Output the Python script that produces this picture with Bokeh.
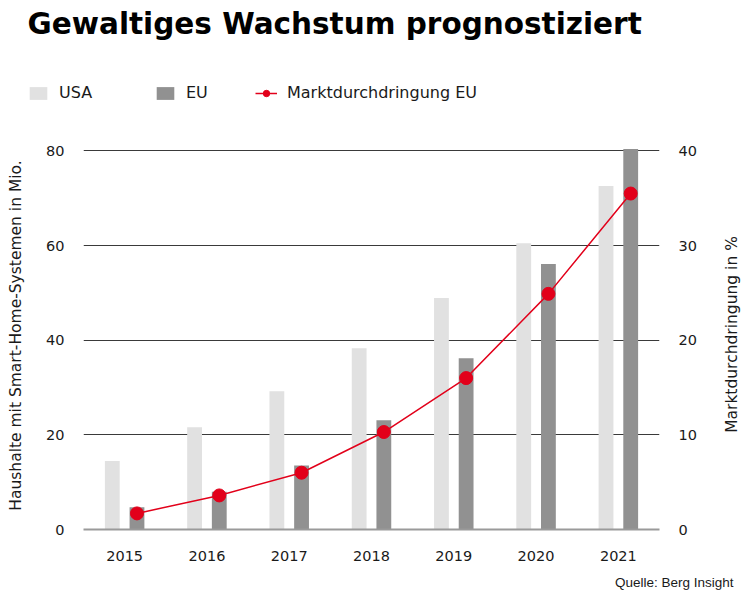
import math
from bokeh.plotting import figure
from bokeh.layouts import column, row
from bokeh.models import (FactorRange, Range1d, LinearAxis, FixedTicker, Legend,
                          LegendItem, Label, ColumnDataSource)
from bokeh.transform import dodge
from bokeh.embed import file_html
from bokeh.resources import INLINE

years = ["2015", "2016", "2017", "2018", "2019", "2020", "2021"]
usa = [14.5, 21.6, 29.2, 38.3, 48.9, 60.5, 72.6]
eu = [4.7, 8.0, 13.5, 23.1, 36.2, 56.1, 80.4]
penetration_eu = [1.7, 3.6, 6.0, 10.3, 16.0, 24.9, 35.5]
left_ticks = [0, 20, 40, 60, 80]
right_ticks = [0, 10, 20, 30, 40]

FONT = "DejaVu Sans"
TXT = "#1a1a1a"
RED = "#e2001a"
C_USA = "#e1e1e1"
C_EU = "#919191"

src = ColumnDataSource(dict(year=years, usa=usa, eu=eu, pen=penetration_eu))

# ---------------- header: title + legend ----------------
hdr = figure(width=745, height=120, x_range=Range1d(0, 1), y_range=Range1d(0, 1),
             x_axis_type=None, y_axis_type=None, output_backend="svg",
             toolbar_location=None, min_border=0, title=None)
hdr.frame_align = False
hdr.outline_line_color = None
hdr.add_layout(Label(x=27, y=97, x_units="screen", y_units="screen",
                     text="Gewaltiges Wachstum prognostiziert", text_font=FONT,
                     text_font_size="29.5px", text_font_style="bold", text_color="#000000",
                     text_baseline="alphabetic"))
# legend-only renderers (their single point lies outside the header's visible range)
h_usa = hdr.vbar(x=[5], top=[1], width=0.1, fill_color=C_USA, line_color=None)
h_eu = hdr.vbar(x=[5], top=[1], width=0.1, fill_color=C_EU, line_color=None)
h_line = hdr.line(x=[5, 6], y=[1, 1], line_color=RED, line_width=1.5)
h_dot = hdr.scatter(x=[5], y=[1], size=11, fill_color=RED, line_color=RED)


def add_legend(fig, items, x, y):
    lg = Legend(items=items, location=(x, y), orientation="horizontal",
                glyph_width=22, glyph_height=16, label_standoff=10, label_height=16,
                label_text_font=FONT, label_text_font_size="16px", label_text_color=TXT,
                border_line_color=None, background_fill_alpha=0, padding=0, margin=0,
                spacing=0)
    fig.add_layout(lg)


add_legend(hdr, [LegendItem(label="USA", renderers=[h_usa])], 27, 18)
add_legend(hdr, [LegendItem(label="EU", renderers=[h_eu])], 154, 18)
add_legend(hdr, [LegendItem(label="Marktdurchdringung EU", renderers=[h_line, h_dot])], 255, 18)

# ---------------- main chart ----------------
p = figure(width=720, height=450, x_range=FactorRange(*years), y_range=Range1d(0, 82),
           output_backend="svg", toolbar_location=None, title=None,
           min_border_left=83, min_border_right=61, min_border_top=21, min_border_bottom=41)
p.extra_y_ranges = {"pct": Range1d(0, 41)}
p.outline_line_color = None
p.xgrid.visible = False
p.ygrid.ticker = FixedTicker(ticks=[20, 40, 60, 80])
p.ygrid.grid_line_color = "#3a3a3a"
p.ygrid.grid_line_width = 1

ya = p.yaxis[0]
ya.ticker = FixedTicker(ticks=left_ticks)
ya.axis_line_color = None
ya.major_tick_line_color = None
ya.minor_tick_line_color = None
ya.major_label_standoff = 13
ya.major_label_text_font = FONT
ya.major_label_text_font_size = "14.5px"
ya.major_label_text_color = TXT
ya.axis_label = "Haushalte mit Smart-Home-Systemen in Mio."
ya.axis_label_text_font = FONT
ya.axis_label_text_font_size = "15.5px"
ya.axis_label_text_font_style = "normal"
ya.axis_label_text_color = TXT
ya.axis_label_standoff = 18

ra = LinearAxis(y_range_name="pct", ticker=FixedTicker(ticks=right_ticks))
ra.axis_line_color = None
ra.major_tick_line_color = None
ra.minor_tick_line_color = None
ra.major_label_standoff = 13
ra.major_label_text_font = FONT
ra.major_label_text_font_size = "14.5px"
ra.major_label_text_color = TXT
p.add_layout(ra, "right")

xa = p.xaxis[0]
xa.axis_line_color = "#9a9a9a"
xa.axis_line_width = 2
xa.major_tick_line_color = None
xa.minor_tick_line_color = None
xa.major_label_standoff = 15
xa.major_label_text_font = FONT
xa.major_label_text_font_size = "14.5px"
xa.major_label_text_color = TXT

p.vbar(x=dodge("year", -0.15, range=p.x_range), top="usa", width=0.18,
       source=src, fill_color=C_USA, line_color=None)
p.vbar(x=dodge("year", 0.15, range=p.x_range), top="eu", width=0.18,
       source=src, fill_color=C_EU, line_color=None)
p.line(x=dodge("year", 0.15, range=p.x_range), y="pen", y_range_name="pct",
       source=src, line_color=RED, line_width=1.5)
p.scatter(x=dodge("year", 0.15, range=p.x_range), y="pen", y_range_name="pct",
          source=src, size=13, fill_color=RED, line_color=RED)

# ---------------- right axis title (reads bottom-to-top) ----------------
side = figure(width=25, height=450, x_range=Range1d(0, 1), y_range=Range1d(0, 1),
              x_axis_type=None, y_axis_type=None, output_backend="svg",
              toolbar_location=None, min_border=0, title=None)
side.frame_align = False
side.outline_line_color = None
side.add_layout(Label(x=11, y=236, x_units="screen", y_units="screen",
                      text="Marktdurchdringung in %", angle=math.pi / 2,
                      text_font=FONT, text_font_size="15.5px", text_color=TXT,
                      text_align="center", text_baseline="middle"))

# ---------------- footer: source ----------------
ftr = figure(width=745, height=29, x_range=Range1d(0, 1), y_range=Range1d(0, 1),
             x_axis_type=None, y_axis_type=None, output_backend="svg",
             toolbar_location=None, min_border=0, title=None)
ftr.frame_align = False
ftr.outline_line_color = None
ftr.add_layout(Label(x=733, y=17, x_units="screen", y_units="screen",
                     text="Quelle: Berg Insight", text_font="Liberation Sans",
                     text_font_size="13.5px", text_color=TXT, text_align="right",
                     text_baseline="alphabetic"))

layout = column(hdr, row(p, side, spacing=0), ftr, spacing=0)
open("out.html", "w").write(file_html(layout, INLINE))
